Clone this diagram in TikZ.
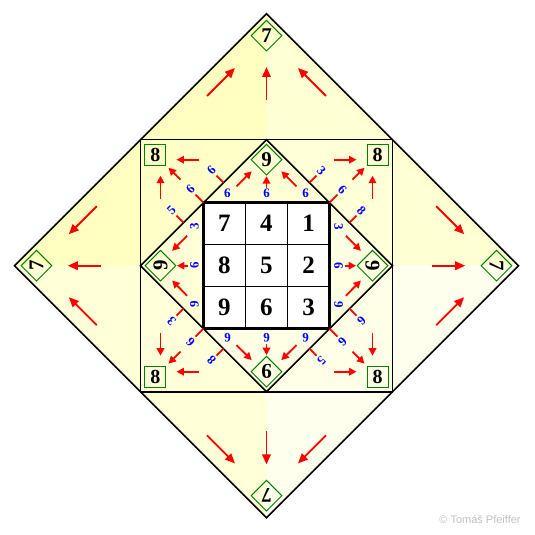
\documentclass[tikz,border=0pt]{standalone}
\usepackage{fontspec}
\setmainfont{Liberation Serif}
\newfontfamily\copyfont{Liberation Sans}
\usetikzlibrary{arrows.meta,shapes.geometric}
\definecolor{oTL}{HTML}{FFFFC0}
\definecolor{oTR}{HTML}{FFFFD4}
\definecolor{oBL}{HTML}{FFFFD8}
\definecolor{oBR}{HTML}{FFFFEE}
\definecolor{cTL}{HTML}{FFFFC8}
\definecolor{cTR}{HTML}{FFFFD8}
\definecolor{cBL}{HTML}{FFFFDA}
\definecolor{cBR}{HTML}{FFFFE8}
\definecolor{iT}{HTML}{FFFFD6}
\definecolor{iL}{HTML}{FFFFD8}
\definecolor{iR}{HTML}{FFFFE2}
\definecolor{iB}{HTML}{FFFFE6}
\definecolor{boxgreen}{HTML}{008000}
\definecolor{arrowred}{HTML}{FF0000}
\definecolor{labelblue}{HTML}{0000FF}
\definecolor{copygray}{HTML}{C0C0C0}
\begin{document}
\begin{tikzpicture}[x=1pt,y=1pt,
  bigarrow/.style={draw=arrowred,line width=1.9pt,-{Triangle[length=10pt,width=8.5pt]}},
  smallarrow/.style={draw=arrowred,line width=1.8pt,-{Triangle[length=7.5pt,width=7.5pt]}},
  stubline/.style={draw=arrowred,line width=1.8pt},
  edgeline/.style={draw=black,line width=1.6pt,line join=miter},
  diamondbox/.style={draw=boxgreen,line width=1pt,diamond,aspect=1,minimum width=31pt,minimum height=31pt,inner sep=0pt,font=\bfseries\fontsize{21}{21}\selectfont,transform shape},
  squarebox/.style={draw=boxgreen,line width=1pt,rectangle,minimum size=21pt,inner sep=0pt,transform shape},
  eightnum/.style={font=\bfseries\fontsize{20}{20}\selectfont,inner sep=0pt},
  sumlabel/.style={text=labelblue,font=\bfseries\fontsize{13}{13}\selectfont,inner sep=2.5pt,transform shape},
  cellnum/.style={font=\bfseries\fontsize{25}{25}\selectfont}
]
\useasboundingbox (-266.5,-269.3) rectangle (268.5,265.7);
% outer diamond quadrants
\fill[oTL] (0,0) -- (-252,0) -- (0,252) -- cycle;
\fill[oTR] (0,0) -- (252,0) -- (0,252) -- cycle;
\fill[oBL] (0,0) -- (-252,0) -- (0,-252) -- cycle;
\fill[oBR] (0,0) -- (252,0) -- (0,-252) -- cycle;
% square corner triangles
\fill[cTL] (-126,126) -- (0,126) -- (-126,0) -- cycle;
\fill[cTR] (126,126) -- (0,126) -- (126,0) -- cycle;
\fill[cBL] (-126,-126) -- (0,-126) -- (-126,0) -- cycle;
\fill[cBR] (126,-126) -- (0,-126) -- (126,0) -- cycle;
% inner diamond triangles
\fill[iT] (-63,63) -- (63,63) -- (0,126) -- cycle;
\fill[iB] (-63,-63) -- (63,-63) -- (0,-126) -- cycle;
\fill[iL] (-63,63) -- (-63,-63) -- (-126,0) -- cycle;
\fill[iR] (63,63) -- (63,-63) -- (126,0) -- cycle;
% outlines
\draw[edgeline] (0,252) -- (252,0) -- (0,-252) -- (-252,0) -- cycle;
\draw[edgeline] (-126,-126) rectangle (126,126);
\draw[edgeline] (0,126) -- (126,0) -- (0,-126) -- (-126,0) -- cycle;
% central grid
\fill[white] (-63,-63) rectangle (63,63);
\draw[line width=1.4pt] (-21,-63) -- (-21,63) (21,-63) -- (21,63) (-63,-21) -- (63,-21) (-63,21) -- (63,21);
\draw[line width=3pt,line join=miter] (-63,-63) rectangle (63,63);
\node[cellnum] (g11) at (-42,42) {7};
\node[cellnum] (g12) at (0,42) {4};
\node[cellnum] (g13) at (42,42) {1};
\node[cellnum] (g21) at (-42,0) {8};
\node[cellnum] (g22) at (0,0) {5};
\node[cellnum] (g23) at (42,0) {2};
\node[cellnum] (g31) at (-42,-42) {9};
\node[cellnum] (g32) at (0,-42) {6};
\node[cellnum] (g33) at (42,-42) {3};
% four rotated copies
\foreach \k/\la/\lb/\lc/\ma/\mb/\mc in {0/6/6/6/3/6/8, 1/9/6/3/5/6/6, 2/6/6/6/8/6/3, 3/3/6/9/6/6/5}{
  \begin{scope}[rotate=\k*90]
    % outer triangle
    \node[diamondbox] (seven\k) at (0,230) {7};
    \draw[bigarrow] (-59.5,169.7) -- (-31.5,197.7);
    \draw[bigarrow] (0,165.7) -- (0,198.7);
    \draw[bigarrow] (59.5,169.7) -- (31.5,197.7);
    % inner triangle
    \node[diamondbox] (nine\k) at (0,106) {9};
    \node[sumlabel] (ia\k) at (-39,72) {\la};
    \node[sumlabel] (ib\k) at (0,72) {\lb};
    \node[sumlabel] (ic\k) at (39,72) {\lc};
    \draw[smallarrow] (-30,79.4) -- (-14.8,94.4);
    \draw[smallarrow] (0,78) -- (0,89.5);
    \draw[smallarrow] (30,79.4) -- (14.8,94.4);
    % corner triangle
    \node[squarebox] (eb\k) at (111,111) {};
    \node[sumlabel,rotate=-45] (ca\k) at (55,95) {\ma};
    \node[sumlabel,rotate=-45] (cb\k) at (76,76) {\mb};
    \node[sumlabel,rotate=-45] (cc\k) at (95,55) {\mc};
    \coordinate (sa\k) at (43,83);
    \coordinate (sb\k) at (63,63);
    \coordinate (sc\k) at (83,43);
    \draw[stubline] (sa\k) -- (ca\k);
    \draw[stubline] (sb\k) -- (cb\k);
    \draw[stubline] (sc\k) -- (cc\k);
    \draw[smallarrow] (67,106) -- (90,106);
    \draw[smallarrow] (86,86) -- (98,98);
    \draw[smallarrow] (106,67) -- (106,90);
  \end{scope}
  \node[eightnum] (et\k) at (eb\k) {8};
}
\node[font=\copyfont\fontsize{11}{11}\selectfont,text=copygray] (copyright) at (213.5,-254.3) {© Tomáš Pfeiffer};
\end{tikzpicture}
\end{document}
